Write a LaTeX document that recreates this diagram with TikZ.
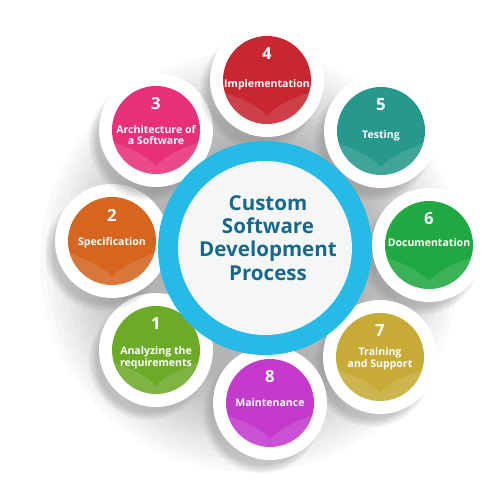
\documentclass[tikz,border=0pt]{standalone}
\usepackage{fontspec}
\setmainfont{Open Sans}
\usetikzlibrary{shadows,calc}
\definecolor{cyanring}{RGB}{38,186,230}
\definecolor{innerwhite}{RGB}{245,247,247}
\definecolor{titleblue}{RGB}{24,104,140}
\definecolor{cA}{RGB}{108,170,40}
\definecolor{cB}{RGB}{214,101,31}
\definecolor{cC}{RGB}{232,48,122}
\definecolor{cD}{RGB}{200,38,48}
\definecolor{cE}{RGB}{38,152,140}
\definecolor{cF}{RGB}{32,168,66}
\definecolor{cG}{RGB}{200,170,55}
\definecolor{cH}{RGB}{195,58,205}
\begin{document}
\begin{tikzpicture}[x=0.02cm,y=-0.02cm,
  satring/.style={circle, fill=white, minimum size=2.28cm, inner sep=0pt,
    circular drop shadow={shadow xshift=-0.16cm, shadow yshift=-0.2cm, opacity=0.4, shadow scale=1.05}},
  satdisk/.style={circle, minimum size=1.76cm, inner sep=0pt},
  numtext/.style={text=white, font=\fontsize{9.5}{10}\selectfont\bfseries, inner sep=0pt},
  labtext/.style={text=white, font=\fontsize{6}{6.6}\selectfont\bfseries, align=center, inner sep=0pt},
  gloss/.style={white, opacity=0.12},
  halo/.style={black, opacity=0.02}]
\useasboundingbox (0,0) rectangle (500,500);
\fill[white] (0,0) rectangle (500,500);
% background grey halo
\begin{scope}
\clip (0,0) rectangle (500,477);
\foreach \r in {120,126,...,210} {\fill[halo] (250,262) circle (\r);}
\end{scope}
% satellites
\foreach \n/\cx/\cy/\col/\num/\lab/\ly in {
  1/156/350/cA/1/{Analyzing the\\requirements}/358,
  2/112/241/cB/2/{Specification}/243,
  3/156/130/cC/3/{Architecture of\\a Software}/135,
  4/267/80/cD/4/{Implementation}/85,
  5/381/131/cE/5/{Testing}/136,
  6/429/245/cF/6/{Documentation}/243,
  7/380/357/cG/7/{Training\\and Support}/359,
  8/270/403/cH/8/{Maintenance}/403}{
  \node[satring] (r\n) at (\cx,\cy) {};
  \node[satdisk, fill=\col] (d\n) at (\cx,\cy) {};
  \begin{scope}[shift={(\cx,\cy)}]
    \clip (0,0) circle (44);
    \fill[gloss] (-46,11) .. controls (-22,20) and (-9,26) .. (0,36)
       .. controls (9,26) and (22,20) .. (46,11) -- (46,46) -- (-46,46) -- cycle;
  \end{scope}
  \node[numtext] (n\n) at (\cx,\cy-26) {\num};
  \node[labtext] (l\n) at (\cx,\ly) {\lab};
}
% central circle
\node[circle, fill=cyanring, minimum size=4.28cm, inner sep=0pt] (ring) at (265,248) {};
\node[circle, fill=innerwhite, minimum size=3.48cm, inner sep=0pt] (core) at (265,248) {};
\node[text=titleblue, align=center, font=\fontsize{11.7}{13.2}\selectfont\bfseries] (title) at (268,238) {Custom\\Software\\Development\\Process};
\end{tikzpicture}
\end{document}
